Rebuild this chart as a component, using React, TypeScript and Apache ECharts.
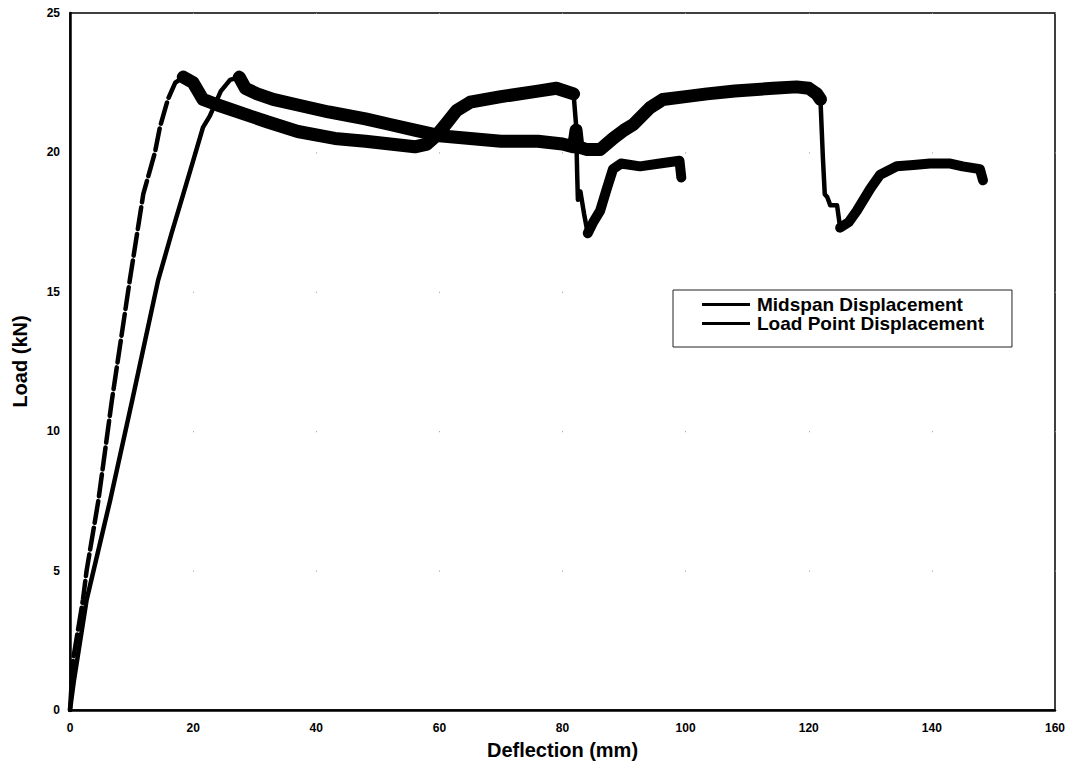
import React, { useEffect, useRef } from "react";
import * as echarts from "echarts";

// Axis ticks
const xTicks = [0, 20, 40, 60, 80, 100, 120, 140, 160];
const yTicks = [0, 5, 10, 15, 20, 25];

// Load Point Displacement
const lpRiseX = [0, 0.5, 2.1, 2.7, 4.6, 6.8, 9.7, 11.9, 13.8, 14.6, 15.9, 17.1, 18.4];
const lpRiseY = [0, 1.8, 3.95, 5.0, 7.5, 11.1, 15.4, 18.5, 20.0, 20.9, 21.9, 22.5, 22.7];
const lpBandX = [18.4, 20.0, 21.6, 24, 28, 32, 37, 43, 48, 52, 56, 58, 59.5, 61, 62.8, 65, 70, 76, 79, 81.8];
const lpBandY = [22.7, 22.5, 21.9, 21.7, 21.4, 21.1, 20.75, 20.5, 20.4, 20.3, 20.2, 20.3, 20.6, 21.0, 21.5, 21.8, 22.0, 22.2, 22.3, 22.1];
const lpDropX = [81.8, 82.2, 82.4, 82.5, 82.9, 83.5, 84.1];
const lpDropY = [22.1, 21.0, 19.1, 18.3, 18.6, 17.8, 17.1];
const lpTailX = [84.1, 85, 86.1, 87.2, 88.2, 89.5, 92.6, 95.8, 99.0, 99.3];
const lpTailY = [17.1, 17.5, 17.9, 18.7, 19.4, 19.6, 19.5, 19.6, 19.7, 19.1];

// Midspan Displacement
const msRiseX = [0, 0.6, 2.7, 6.5, 10.1, 14.3, 16.5, 18.4, 20.0, 21.6, 22.7, 24.5, 26.0, 27.5];
const msRiseY = [0, 1.0, 3.95, 7.5, 11.1, 15.4, 17.1, 18.5, 19.7, 20.9, 21.3, 22.2, 22.6, 22.7];
const msBandX = [27.5, 28.5, 30.4, 33, 37, 42, 48, 52, 56, 60, 65, 70, 76, 80, 81.8, 82.2, 82.5, 84, 86.1, 88.2, 90, 91.5, 94.2, 96.3, 100, 103.5, 108, 114.2, 118, 120, 121.3, 121.9];
const msBandY = [22.7, 22.3, 22.1, 21.9, 21.7, 21.45, 21.2, 21.0, 20.8, 20.6, 20.5, 20.4, 20.4, 20.3, 20.2, 20.8, 20.2, 20.1, 20.1, 20.5, 20.8, 21.0, 21.6, 21.9, 22.0, 22.1, 22.2, 22.3, 22.35, 22.3, 22.1, 21.9];
const msDropX = [121.9, 122.3, 122.6, 123.0, 123.5, 124.6, 125.1];
const msDropY = [21.9, 19.8, 18.5, 18.4, 18.1, 18.1, 17.3];
const msTailX = [125.1, 126.5, 127.8, 130, 131.6, 134.3, 137, 139.7, 143, 145, 147.8, 148.3];
const msTailY = [17.3, 17.5, 17.9, 18.7, 19.2, 19.5, 19.55, 19.6, 19.6, 19.5, 19.4, 19.0];

const MS = "Midspan Displacement";
const LP = "Load Point Displacement";
const FONT = "Arial, 'Liberation Sans', sans-serif";

const zip = (xs: number[], ys: number[]) => xs.map((x, i) => [x, ys[i]]);

const mk = (name: string, xs: number[], ys: number[], width: number, type: any = "solid") => ({
  type: "line",
  name,
  data: zip(xs, ys),
  showSymbol: false,
  symbol: "none",
  color: "#000",
  lineStyle: { color: "#000", width, type, cap: "round", join: "round" },
  z: 3,
});

export default function App() {
  const ref = useRef<HTMLDivElement>(null);
  useEffect(() => {
    if (!ref.current) return;
    const chart = echarts.init(ref.current, null, { renderer: "svg" });
    chart.setOption({
      animation: false,
      backgroundColor: "#fff",
      grid: { left: 70, right: 20, top: 13, bottom: 57, show: true, borderColor: "#000", borderWidth: 1.5 },
      xAxis: {
        type: "value",
        min: 0,
        max: 160,
        interval: 20,
        name: "Deflection (mm)",
        nameLocation: "middle",
        nameGap: 30,
        nameTextStyle: { fontFamily: FONT, fontWeight: "bold", fontSize: 20, color: "#000" },
        axisLine: { show: true, lineStyle: { color: "#000", width: 2.5 } },
        axisTick: { show: false },
        axisLabel: {
          margin: 12,
          fontFamily: FONT,
          fontWeight: "bold",
          fontSize: 12,
          color: "#000",
          formatter: (v: number) => (xTicks.includes(v) ? String(v) : ""),
        },
        splitLine: { show: true, lineStyle: { color: "#999", width: 1, type: [1, 138.4] } },
      },
      yAxis: {
        type: "value",
        min: 0,
        max: 25,
        interval: 5,
        name: "Load (kN)",
        nameLocation: "middle",
        nameGap: 40,
        nameRotate: 90,
        nameTextStyle: { fontFamily: FONT, fontWeight: "bold", fontSize: 20, color: "#000" },
        axisLine: { show: true, lineStyle: { color: "#000", width: 2.5 } },
        axisTick: { show: false },
        axisLabel: {
          margin: 10,
          fontFamily: FONT,
          fontWeight: "bold",
          fontSize: 12,
          color: "#000",
          formatter: (v: number) => (yTicks.includes(v) ? String(v) : ""),
        },
        splitLine: { show: false },
      },
      legend: {
        data: [MS, LP],
        orient: "vertical",
        left: 673,
        top: 290,
        backgroundColor: "#fff",
        borderColor: "#222",
        borderWidth: 1,
        borderRadius: 0,
        padding: [5, 28, 14, 29],
        itemGap: 0,
        itemWidth: 48,
        itemHeight: 3,
        icon: "rect",
        textStyle: { fontFamily: FONT, fontWeight: "bold", fontSize: 19, lineHeight: 19, color: "#000", padding: [0, 0, 0, 2] },
      },
      series: [
        mk(MS, msBandX, msBandY, 13),
        mk(MS, msRiseX, msRiseY, 4.5),
        mk(MS, msDropX, msDropY, 4.5),
        mk(MS, msTailX, msTailY, 10),
        mk(LP, lpBandX, lpBandY, 13),
        mk(LP, lpRiseX, lpRiseY, 4.5, [22, 5]),
        mk(LP, lpDropX, lpDropY, 4.5),
        mk(LP, lpTailX, lpTailY, 10),
      ],
    });
    return () => chart.dispose();
  }, []);
  return <div ref={ref} style={{ position: "absolute", left: 0, top: 0, width: 1075, height: 767 }} />;
}
